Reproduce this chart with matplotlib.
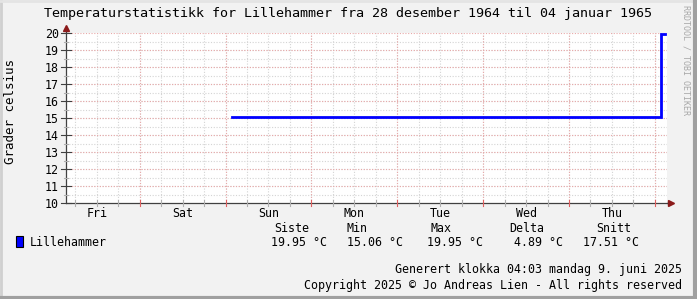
import matplotlib
matplotlib.use("Agg")
import matplotlib.pyplot as plt
from matplotlib.patches import Rectangle
from matplotlib.lines import Line2D
import matplotlib.transforms as mtransforms

W, H = 697, 299
MONO = "DejaVu Sans Mono"

# data (time in hours from the left edge of the graph)
hours = [46.4, 166.3, 167.4]
temps = [15.06, 19.95, 19.95]
first_midnight = 20.6
days = ["Fri", "Sat", "Sun", "Mon", "Tue", "Wed", "Thu"]
headers = ["Siste", "Min", "Max", "Delta", "Snitt"]
stats = ["19.95 °C", "15.06 °C", "19.95 °C", "4.89 °C", "17.51 °C"]

title = "Temperaturstatistikk for Lillehammer fra 28 desember 1964 til 04 januar 1965"
footer1 = "Generert klokka 04:03 mandag 9. juni 2025"
footer2 = "Copyright 2025 © Jo Andreas Lien - All rights reserved"


def fx(px):
    return px / W


def fy(py):
    return 1 - py / H


fig = plt.figure(figsize=(W / 100, H / 100), dpi=100)
fig.patch.set_facecolor("#f2f2f2")

ax = fig.add_axes([fx(66), fy(203), fx(667) - fx(66), fy(33) - fy(203)])
ax.set_facecolor("white")
ax.set_xlim(0, 168)
ax.set_ylim(10, 20)

grid_minor = "#d4d4d4"
grid_major = "#e8a8a8"
dots = (0, (1, 1.5))

# grid
for h in range(0, 169, 6):
    t = first_midnight - 24 + h
    if 0 < t < 168:
        ax.axvline(t, color=grid_minor, lw=0.8, ls=dots, zorder=1)
for k in range(7):
    ax.axvline(first_midnight + 24 * k, color=grid_major, lw=0.8, ls=dots, zorder=1.5)
for k in range(20):
    v = 10 + 0.5 * k
    if v > 10:
        ax.axhline(v, color=grid_minor, lw=0.8, ls=dots, zorder=1)
for v in range(11, 21):
    ax.axhline(v, color=grid_major, lw=0.8, ls=dots, zorder=1.5)

# tick marks on axes
bx = mtransforms.blended_transform_factory(ax.transData, ax.transAxes)
by = mtransforms.blended_transform_factory(ax.transAxes, ax.transData)
for h in range(0, 169, 6):
    t = first_midnight - 24 + h
    if 0 < t < 168:
        major = (h % 24 == 0)
        ax.plot([t, t], [-0.015, 0.015], transform=bx, clip_on=False,
                color="#e06060" if major else "#b0b0b0", lw=0.8, zorder=4)
for k in range(21):
    v = 10 + 0.5 * k
    ln = 0.008 if k % 2 == 0 else 0.004
    ax.plot([-ln, ln], [v, v], transform=by, clip_on=False,
            color="#404040" if k % 2 == 0 else "#b0b0b0", lw=0.8, zorder=4)

# series
ax.plot(hours, temps, drawstyle="steps-post", color="#0000ff", lw=2,
        solid_joinstyle="miter", zorder=3)

# axes
for s in ["top", "right"]:
    ax.spines[s].set_visible(False)
for s in ["left", "bottom"]:
    ax.spines[s].set_color("#404040")
    ax.spines[s].set_linewidth(0.9)
ax.plot([0, 0], [1.0, 1.03], transform=ax.transAxes, color="#404040", lw=0.9, clip_on=False)
ax.plot([1.0, 1.007], [0, 0], transform=ax.transAxes, color="#404040", lw=0.9, clip_on=False)
ax.plot([0], [1.03], marker="^", ms=4, color="#8b1a1a", transform=ax.transAxes, clip_on=False)
ax.plot([1.007], [0], marker=">", ms=4, color="#8b1a1a", transform=ax.transAxes, clip_on=False)

ax.set_yticks(range(10, 21))
ax.set_yticklabels([str(v) for v in range(10, 21)], fontfamily=MONO, fontsize=8.4)
ax.set_xticks([first_midnight - 12 + 24 * k for k in range(7)])
ax.set_xticklabels(days, fontfamily=MONO, fontsize=8.4)
ax.tick_params(axis="both", length=0, colors="black")
ax.tick_params(axis="y", pad=5)
ax.tick_params(axis="x", pad=3)

# texts
fig.text(0.5, fy(14), title, ha="center", va="center", fontfamily=MONO, fontsize=9.6)
fig.text(fx(11), fy(112), "Grader celsius", rotation=90, ha="center", va="center",
         fontfamily=MONO, fontsize=9)
fig.text(fx(686), fy(60), "RRDTOOL / TOBI OETIKER", rotation=270, ha="center", va="center",
         fontfamily=MONO, fontsize=6, color="#a8a8a8")

head_x = [292, 357, 441, 527, 614]
stat_x = [299, 375, 455, 538, 611]
for x, t in zip(head_x, headers):
    fig.text(fx(x), fy(228), t, ha="center", va="center", fontfamily=MONO, fontsize=8.4)
for x, t in zip(stat_x, stats):
    fig.text(fx(x), fy(242), t, ha="center", va="center", fontfamily=MONO, fontsize=8.4)

fig.add_artist(Rectangle((fx(16), fy(247)), fx(7), fy(236) - fy(247),
                         facecolor="#0000ff", edgecolor="black", lw=0.8))
fig.text(fx(30), fy(242), "Lillehammer", ha="left", va="center", fontfamily=MONO, fontsize=8.4)

fig.text(fx(682), fy(270), footer1, ha="right", va="center", fontfamily=MONO, fontsize=8.4)
fig.text(fx(682), fy(285), footer2, ha="right", va="center", fontfamily=MONO, fontsize=8.4)

# frame shading
fig.add_artist(Line2D([fx(1), fx(1)], [0, 1], color="#d0d0d0", lw=2))
fig.add_artist(Line2D([0, 1], [fy(1), fy(1)], color="#e4e4e4", lw=2))
fig.add_artist(Line2D([fx(695), fx(695)], [0, 1], color="#a0a0a0", lw=3))
fig.add_artist(Line2D([0, 1], [fy(297.5), fy(297.5)], color="#a0a0a0", lw=3))

fig.savefig("out.png", dpi=100, facecolor=fig.get_facecolor())
